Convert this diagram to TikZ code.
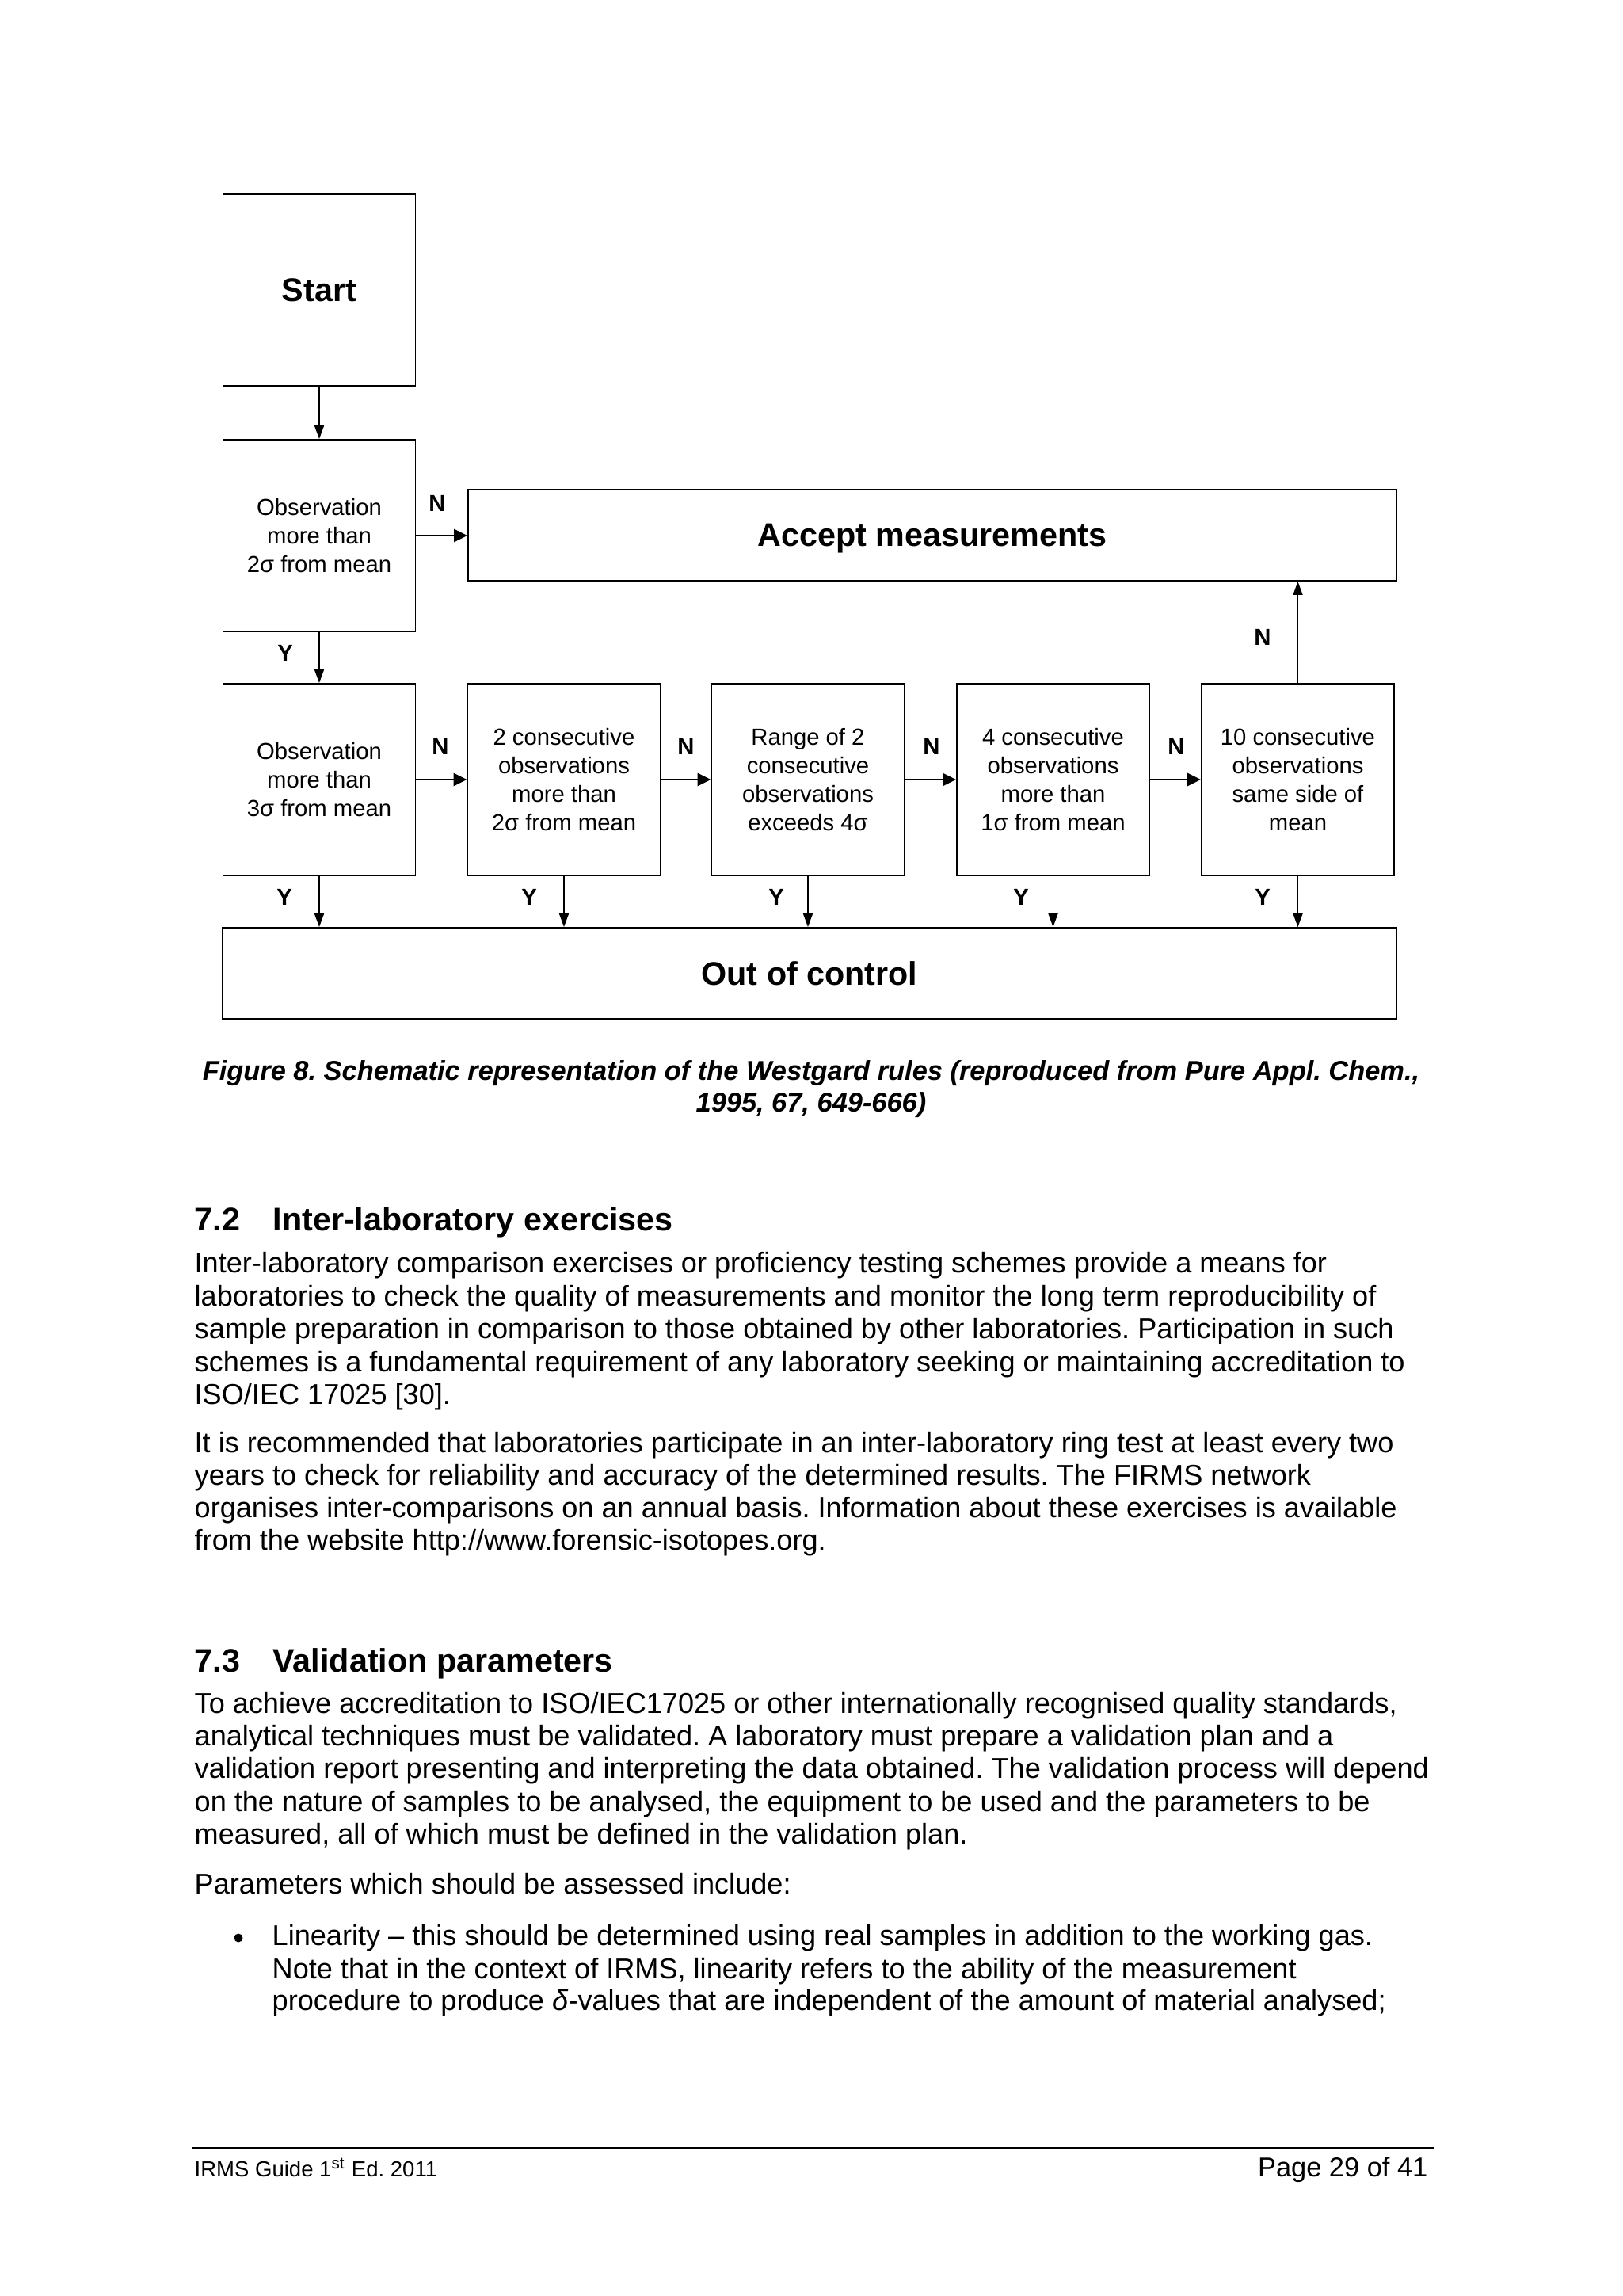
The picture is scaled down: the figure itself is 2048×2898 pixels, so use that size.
\documentclass[tikz,border=0pt]{standalone}
\usepackage{fontspec}
\setmainfont{Liberation Sans}
\usetikzlibrary{arrows.meta}
\newlength\pxu
\setlength\pxu{0.29067pt}
\frenchspacing
\begin{document}
\begin{tikzpicture}[x=0.29067pt, y=-0.29067pt,
  box/.style={draw, line width=0.55pt, inner sep=0pt, align=center,
    font=\fontsize{8.5}{10.4}\selectfont, minimum width=243\pxu, minimum height=242\pxu},
  big/.style={draw, line width=0.55pt, inner sep=0pt, font=\fontsize{12}{14}\selectfont\bfseries},
  lab/.style={font=\fontsize{8.5}{10}\selectfont\bfseries, anchor=base, inner sep=0pt},
  harrow/.style={line width=0.8pt, -{Triangle[length=4.94pt, width=4.65pt]}},
  varrow/.style={line width=0.45pt, -{Triangle[length=4.94pt, width=3.5pt]}},
  body/.style={anchor=base west, inner sep=0pt, font=\fontsize{10.5}{12}\selectfont},
  head/.style={anchor=base west, inner sep=0pt, font=\fontsize{12}{14}\selectfont\bfseries},
  capt/.style={anchor=base, inner sep=0pt, font=\fontsize{10}{12}\selectfont\bfseries\itshape}]
\useasboundingbox (0,0) rectangle (2048,2898);

% ---- flowchart ----
\node[box, font=\fontsize{12}{14}\selectfont\bfseries] (start) at (403,366) {Start};
\node[box] (obs2) at (403,676) {Observation\\more than\\2σ from mean};
\node[big, text depth=0pt, minimum width=1172\pxu, minimum height=115\pxu] (accept) at (1177,675.5) {Accept measurements};

\node[box] (r1) at (403,984) {Observation\\more than\\3σ from mean};
\node[box] (r2) at (712,984) {2 consecutive\\observations\\more than\\2σ from mean};
\node[box] (r3) at (1020,984) {Range of 2\\consecutive\\observations\\exceeds 4σ};
\node[box] (r4) at (1329.5,984) {4 consecutive\\observations\\more than\\1σ from mean};
\node[box] (r5) at (1638.5,984) {10 consecutive\\observations\\same side of\\mean};

\node[big, minimum width=1482\pxu, minimum height=115\pxu] (out) at (1022,1228.5) {Out of control};

\draw[varrow] (start.south) -- (obs2.north);
\draw[harrow] (obs2.east) -- (obs2.east -| accept.west);
\draw[varrow] (obs2.south) -- (r1.north);
\draw[harrow] (r1.east) -- (r2.west);
\draw[harrow] (r2.east) -- (r3.west);
\draw[harrow] (r3.east) -- (r4.west);
\draw[harrow] (r4.east) -- (r5.west);
\draw[varrow] (r5.north) -- (r5.north |- accept.south);
\draw[varrow] (r1.south) -- (r1.south |- out.north);
\draw[varrow] (r2.south) -- (r2.south |- out.north);
\draw[varrow] (r3.south) -- (r3.south |- out.north);
\draw[varrow] (r4.south) -- (r4.south |- out.north);
\draw[varrow] (r5.south) -- (r5.south |- out.north);

\node[lab] (n0) at (552,645) {N};
\node[lab] (y0) at (360,834) {Y};
\node[lab] (n1) at (556,952) {N};
\node[lab] (n2) at (866,952) {N};
\node[lab] (n3) at (1176,952) {N};
\node[lab] (n4) at (1485,952) {N};
\node[lab] (n5) at (1594,814) {N};
\node[lab] (y1) at (359,1142) {Y};
\node[lab] (y2) at (668,1142) {Y};
\node[lab] (y3) at (980,1142) {Y};
\node[lab] (y4) at (1289,1142) {Y};
\node[lab] (y5) at (1594,1142) {Y};

% ---- caption ----
\node[capt] (cap1) at (1024,1363) {Figure 8. Schematic representation of the Westgard rules (reproduced from Pure Appl. Chem.,};
\node[capt] (cap2) at (1024,1403) {1995, 67, 649-666)};

% ---- section 7.2 ----
\node[head] (h72n) at (245,1553) {7.2};
\node[head] (h72t) at (344,1553) {Inter-laboratory exercises};
\node[body] (p1a) at (245,1606) {Inter-laboratory comparison exercises or proficiency testing schemes provide a means for};
\node[body] (p1b) at (245,1648) {laboratories to check the quality of measurements and monitor the long term reproducibility of};
\node[body] (p1c) at (245,1689) {sample preparation in comparison to those obtained by other laboratories. Participation in such};
\node[body] (p1d) at (245,1731) {schemes is a fundamental requirement of any laboratory seeking or maintaining accreditation to};
\node[body] (p1e) at (245,1772) {ISO/IEC 17025 [30].};
\node[body] (p2a) at (245,1833) {It is recommended that laboratories participate in an inter-laboratory ring test at least every two};
\node[body] (p2b) at (245,1874) {years to check for reliability and accuracy of the determined results. The FIRMS network};
\node[body] (p2c) at (245,1915) {organises inter-comparisons on an annual basis. Information about these exercises is available};
\node[body] (p2d) at (245,1956) {from the website http://www.forensic-isotopes.org.};

% ---- section 7.3 ----
\node[head] (h73n) at (245,2110) {7.3};
\node[head] (h73t) at (344,2110) {Validation parameters};
\node[body] (p3a) at (245,2162) {To achieve accreditation to ISO/IEC17025 or other internationally recognised quality standards,};
\node[body] (p3b) at (245,2203) {analytical techniques must be validated. A laboratory must prepare a validation plan and a};
\node[body] (p3c) at (245,2244) {validation report presenting and interpreting the data obtained. The validation process will depend};
\node[body] (p3d) at (245,2286) {on the nature of samples to be analysed, the equipment to be used and the parameters to be};
\node[body] (p3e) at (245,2327) {measured, all of which must be defined in the validation plan.};
\node[body] (p4) at (245,2390) {Parameters which should be assessed include:};
\node[circle, fill, inner sep=0pt, minimum size=11\pxu] (bul) at (301,2446) {};
\node[body] (b1) at (343,2455) {Linearity – this should be determined using real samples in addition to the working gas.};
\node[body] (b2) at (343,2497) {Note that in the context of IRMS, linearity refers to the ability of the measurement};
\node[body] (b3) at (343,2537) {procedure to produce \textit{δ}-values that are independent of the amount of material analysed;};

% ---- footer ----
\coordinate (fl) at (243,2711);
\coordinate (fr) at (1810,2711);
\draw[line width=0.6pt] (fl) -- (fr);
\node[anchor=base west, inner sep=0pt, font=\fontsize{8}{10}\selectfont] (foot1) at (245,2747) {IRMS Guide 1\textsuperscript{st} Ed. 2011};
\node[anchor=base east, inner sep=0pt, font=\fontsize{10}{12}\selectfont] (foot2) at (1803,2747) {Page 29 of 41};
\end{tikzpicture}
\end{document}
